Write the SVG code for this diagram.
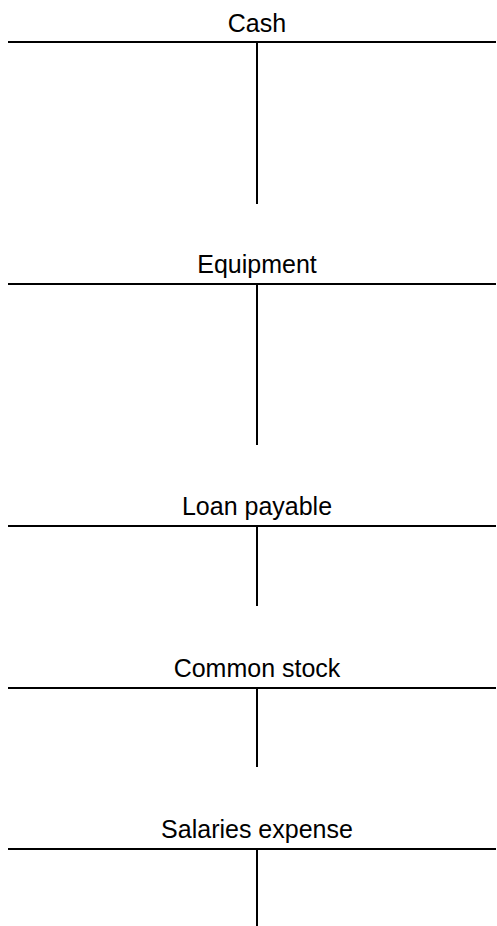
<svg xmlns="http://www.w3.org/2000/svg" width="497" height="926" viewBox="0 0 497 926">
<style>
text{font-family:"Liberation Sans",Arial,sans-serif;font-size:25px;fill:#000;text-anchor:middle}
line{stroke:#000;stroke-width:2}
</style>
<rect width="497" height="926" fill="#fff"/>
<g id="cash">
<text x="257" y="32">Cash</text>
<line x1="8" y1="42" x2="496" y2="42"/>
<line x1="257" y1="42" x2="257" y2="204"/>
</g>
<g id="equipment">
<text x="257" y="273">Equipment</text>
<line x1="8" y1="284" x2="496" y2="284"/>
<line x1="257" y1="284" x2="257" y2="445"/>
</g>
<g id="loan-payable">
<text x="257" y="515">Loan payable</text>
<line x1="8" y1="526" x2="496" y2="526"/>
<line x1="257" y1="526" x2="257" y2="606"/>
</g>
<g id="common-stock">
<text x="257" y="677">Common stock</text>
<line x1="8" y1="688" x2="496" y2="688"/>
<line x1="257" y1="688" x2="257" y2="767"/>
</g>
<g id="salaries-expense">
<text x="257" y="838">Salaries expense</text>
<line x1="8" y1="849" x2="496" y2="849"/>
<line x1="257" y1="849" x2="257" y2="926"/>
</g>
<g id="connectors"></g>
</svg>
